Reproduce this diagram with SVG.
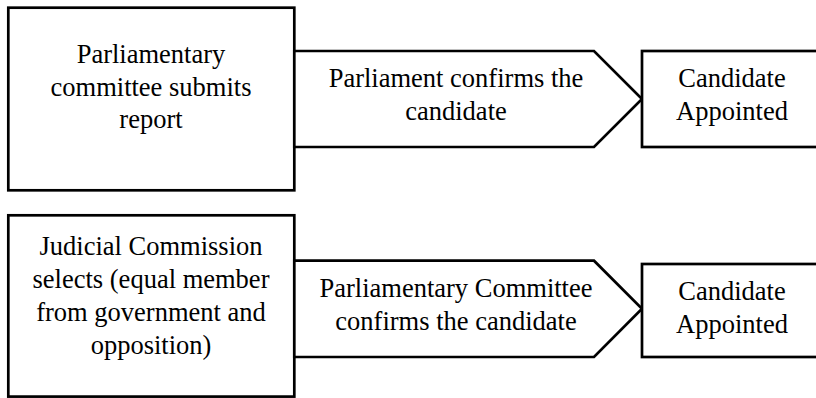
<svg xmlns="http://www.w3.org/2000/svg" width="816" height="398" viewBox="0 0 816 398">
<style>
.box{fill:#fff;stroke:#000;stroke-width:2.7}
text{font-family:'Liberation Serif',serif;font-size:26.5px;fill:#000;text-anchor:middle}
</style>
<rect width="816" height="398" fill="#fff"/>
<g id="connectors"></g>
<g font-family="Liberation Serif, serif" font-size="26.5" text-anchor="middle">
<g id="n1">
<rect class="box" x="8.3" y="7.7" width="286" height="182.6"/>
<text x="151" y="62.8">Parliamentary</text>
<text x="151" y="95.6">committee submits</text>
<text x="151" y="128.4">report</text>
</g>
<g id="n2">
<polygon class="box" points="294.3,51 594,51 642,99 594,147 294.3,147"/>
<text x="456" y="87.3">Parliament confirms the</text>
<text x="456" y="119.6">candidate</text>
</g>
<g id="n3">
<rect class="box" x="642" y="51" width="182" height="96"/>
<text x="732" y="87.3">Candidate</text>
<text x="732" y="119.6">Appointed</text>
</g>
<g id="n4">
<rect class="box" x="8.3" y="215.3" width="286" height="181.3"/>
<text x="151" y="254.5">Judicial Commission</text>
<text x="151" y="287.8">selects (equal member</text>
<text x="151" y="321.1">from government and</text>
<text x="151" y="354.4">opposition)</text>
</g>
<g id="n5">
<polygon class="box" points="294.3,260.7 594,260.7 642,308.8 594,357 294.3,357"/>
<text x="456" y="297">Parliamentary Committee</text>
<text x="456" y="329.5">confirms the candidate</text>
</g>
<g id="n6">
<rect class="box" x="642" y="264" width="182" height="93"/>
<text x="732" y="299.7">Candidate</text>
<text x="732" y="333">Appointed</text>
</g>
</g>
</svg>
